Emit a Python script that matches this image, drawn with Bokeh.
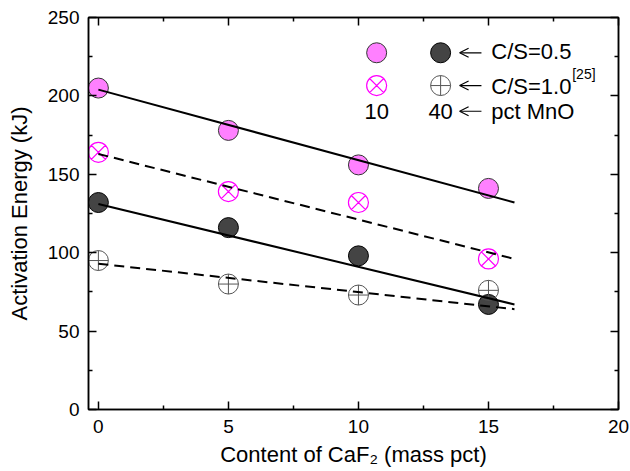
from bokeh.plotting import figure
from bokeh.models import LinearAxis, Range1d, FixedTicker, Arrow, OpenHead
from bokeh.core.properties import value
from bokeh.embed import file_html
from bokeh.resources import INLINE

# ---- data ----
caf2 = [0, 5, 10, 15]
e_cs05_mno10 = [205, 178, 156, 141]
e_cs05_mno40 = [132, 116, 98, 67]
e_cs10_mno10 = [164, 139, 132, 96]
e_cs10_mno40 = [95, 80, 73, 76]

fit_x = [0, 16]
fit_cs05_mno10 = [204, 132]
fit_cs10_mno10 = [163, 96]
fit_cs05_mno40 = [131, 67]
fit_cs10_mno40 = [93, 64]

x_ticks = [0, 5, 10, 15, 20]
x_minor = [2.5, 7.5, 12.5, 17.5]
y_ticks = [0, 50, 100, 150, 200, 250]
y_minor = [25, 75, 125, 175, 225]

legend_texts = ["C/S=0.5", "C/S=1.0", "pct MnO"]
legend_ref = "[25]"
mno_labels = ["10", "40"]

FONT = "Liberation Sans"

p = figure(width=630, height=471, output_backend="svg", toolbar_location=None,
           x_range=Range1d(-0.38, 20), y_range=Range1d(0, 250),
           min_border_left=88, min_border_right=12, min_border_top=17, min_border_bottom=62)
p.grid.visible = False
p.outline_line_color = "black"
p.outline_line_width = 1.5
p.background_fill_color = "white"
p.border_fill_color = "white"

def style_axis(ax, labels=True):
    ax.axis_line_width = 1.5
    ax.major_tick_line_width = 1.5
    ax.minor_tick_line_width = 1.5
    ax.major_tick_in = 8
    ax.major_tick_out = 0
    ax.minor_tick_in = 4
    ax.minor_tick_out = 0
    ax.major_label_text_font = FONT
    ax.major_label_text_color = "black"
    ax.axis_label_text_font = FONT
    ax.axis_label_text_font_style = "normal"
    ax.axis_label_text_color = "black"
    if not labels:
        ax.major_label_text_color = None
        ax.major_label_text_font_size = "1px"
        ax.major_label_standoff = 0

p.xaxis.ticker = FixedTicker(ticks=x_ticks, minor_ticks=x_minor)
p.yaxis.ticker = FixedTicker(ticks=y_ticks, minor_ticks=y_minor)
style_axis(p.xaxis[0])
style_axis(p.yaxis[0])
p.xaxis.major_label_text_font_size = "19px"
p.yaxis.major_label_text_font_size = "19px"
p.xaxis.major_label_standoff = 10
p.yaxis.major_label_standoff = 9
p.xaxis.axis_label = "Content of CaF\u2082 (mass pct)"
p.yaxis.axis_label = "Activation Energy (kJ)"
p.xaxis.axis_label_text_font_size = "22px"
p.yaxis.axis_label_text_font_size = "22px"
p.xaxis.axis_label_standoff = 6
p.yaxis.axis_label_standoff = 13

top_ax = LinearAxis(ticker=FixedTicker(ticks=x_ticks, minor_ticks=x_minor))
style_axis(top_ax, labels=False)
p.add_layout(top_ax, "above")
right_ax = LinearAxis(ticker=FixedTicker(ticks=y_ticks, minor_ticks=y_minor))
style_axis(right_ax, labels=False)
p.add_layout(right_ax, "right")

# ---- markers ----
MAG_FILL = "#FF80FF"
DARK = "#444444"
p.scatter(caf2, e_cs05_mno10, marker="circle", size=20, fill_color=MAG_FILL,
          line_color="#333333", line_width=1)
p.scatter(caf2, e_cs05_mno40, marker="circle", size=20, fill_color=DARK,
          line_color="black", line_width=1)
p.scatter(caf2, e_cs10_mno10, marker="circle_x", size=20, fill_color=None,
          line_color="#FF00FF", line_width=1.2)
p.scatter(caf2, e_cs10_mno40, marker="circle_cross", size=20, fill_color=None,
          line_color="#555555", line_width=1)

# ---- fit lines ----
p.line(fit_x, fit_cs05_mno10, line_color="black", line_width=2)
p.line(fit_x, fit_cs05_mno40, line_color="black", line_width=2)
p.line(fit_x, fit_cs10_mno10, line_color="black", line_width=2, line_dash="10 6")
p.line(fit_x, fit_cs10_mno40, line_color="black", line_width=2, line_dash="10 6")

# ---- in-plot legend ----
leg_x1 = 10.70
leg_x2 = 13.16
row_marker_y = [227.5, 206.6]
row_base_y = [228.1, 206.0, 189.9]
arrow_y = [227.5, 206.6, 190.2]

p.scatter([leg_x1], [row_marker_y[0]], marker="circle", size=20, fill_color=MAG_FILL,
          line_color="#333333", line_width=1)
p.scatter([leg_x2], [row_marker_y[0]], marker="circle", size=20, fill_color=DARK,
          line_color="black", line_width=1)
p.scatter([leg_x1], [row_marker_y[1]], marker="circle_x", size=20, fill_color=None,
          line_color="#FF00FF", line_width=1.2)
p.scatter([leg_x2], [row_marker_y[1]], marker="circle_cross", size=20, fill_color=None,
          line_color="#555555", line_width=1)

for ay in arrow_y:
    p.add_layout(Arrow(end=OpenHead(size=9, line_width=1.2, line_color="black"),
                       x_start=14.73, y_start=ay, x_end=13.89, y_end=ay,
                       line_color="black", line_width=1.2))

fs = "22px"
p.text(x=[15.11] * 3, y=row_base_y, text=legend_texts,
       text_font=value(FONT), text_font_size=fs, text_baseline="alphabetic", text_align="left",
       text_color="black")
p.text(x=[18.22], y=[213.9], text=[legend_ref],
       text_font=value(FONT), text_font_size="14px", text_baseline="alphabetic", text_align="left",
       text_color="black")
p.text(x=[leg_x1, leg_x2], y=[row_base_y[2]] * 2, text=mno_labels,
       text_font=value(FONT), text_font_size=fs, text_baseline="alphabetic", text_align="center",
       text_color="black")

open("out.html", "w").write(file_html(p, INLINE))
